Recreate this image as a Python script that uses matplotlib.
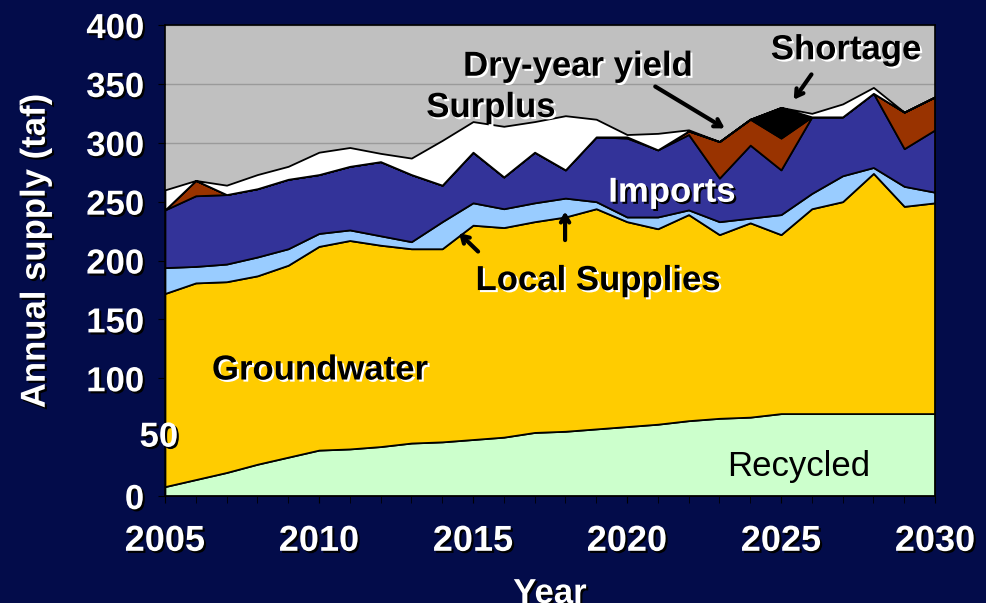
import matplotlib
matplotlib.use("Agg")
import matplotlib.pyplot as plt
import matplotlib.patheffects as pe
import matplotlib.transforms as mtransforms

plt.rcParams['font.family'] = ['Liberation Sans', 'DejaVu Sans']

# Annual supply by source (taf), 2005-2030
years = list(range(2005, 2031))
recycled = [8, 14, 20, 27, 33, 39, 40, 42, 45, 46, 48, 50, 54, 55, 57, 59, 61, 64, 66, 67, 70, 70, 70, 70, 70, 70]
groundwater = [164, 167, 162, 160, 163, 173, 177, 171, 165, 164, 182, 178, 179, 182, 187, 174, 166, 175, 156, 165, 152, 174, 180, 204, 176, 179]
local_supplies = [22, 14, 15, 16, 14, 11, 9, 8, 6, 23, 19, 16, 16, 16, 6, 4, 10, 4, 11, 4, 17, 13, 22, 5, 17, 9]
imports = [49, 60, 59, 58, 59, 50, 54, 63, 57, 31, 43, 27, 43, 24, 55, 67, 57, 64, 37, 62, 38, 65, 50, 63, 32, 53]
dry_year = [0, 13, 0, 0, 0, 0, 0, 0, 0, 0, 0, 0, 0, 0, 0, 1, 0, 3, 31, 22, 27, 0, 0, 0, 31, 28]
shortage = [0, 0, 0, 0, 0, 0, 0, 0, 0, 0, 0, 0, 0, 0, 0, 0, 0, 0, 0, 0, 26, 0, 0, 0, 0, 0]
surplus = [17, 0, 8, 12, 11, 19, 16, 7, 14, 38, 26, 43, 26, 46, 15, 2, 14, 1, 0, 0, 0, 3, 11, 5, 0, 0]
yticks = list(range(0, 401, 50))

colors = ['#CCFFCC', '#FFCC00', '#99CCFF', '#333399', '#993300', '#000000', '#FFFFFF']
bg = '#030C4A'
fs = 25

fig = plt.figure(figsize=(9.86, 6.03), dpi=100, facecolor=bg)
ax = fig.add_axes([0.1673, 0.1774, 0.781, 0.7811])
ax.set_facecolor('#C0C0C0')

ax.stackplot(years, recycled, groundwater, local_supplies, imports, dry_year, shortage, surplus,
             colors=colors, edgecolor='black', linewidth=1.3)

ax.set_xlim(2005, 2030)
ax.set_ylim(0, 400)
ax.set_xticks(range(2005, 2031, 5))
ax.set_xticks(years, minor=True)
# the "50" label sits shifted into the plot on the original slide, drawn separately below
ax.set_yticks(yticks, ['' if v == 50 else str(v) for v in yticks])
ax.yaxis.grid(True, color='#9A9A9A', linewidth=1)
ax.set_axisbelow(True)
for s in ax.spines.values():
    s.set_color('black')
    s.set_linewidth(1.2)

white_shadow = [pe.SimplePatchShadow(offset=(1.5, -1.5), shadow_rgbFace='white', alpha=1), pe.Normal()]
dark_shadow = [pe.SimplePatchShadow(offset=(1.5, -1.5), shadow_rgbFace='black', alpha=1), pe.Normal()]

ax.tick_params(axis='x', which='both', direction='out', length=5, color='black', pad=15,
               labelsize=fs + 1, labelcolor='white')
ax.tick_params(axis='y', direction='out', length=5, color='black', pad=10,
               labelsize=fs, labelcolor='white')
for lbl in ax.get_xticklabels() + ax.get_yticklabels():
    lbl.set_fontweight('bold')
    lbl.set_path_effects(dark_shadow)

trans = mtransforms.blended_transform_factory(ax.transAxes, ax.transData)
ax.text(0.017, 50, '50', transform=trans, ha='right', va='center', fontsize=fs,
        fontweight='bold', color='white', path_effects=dark_shadow, clip_on=False, zorder=5)

ax.set_xlabel('Year', fontsize=fs, fontweight='bold', color='white', path_effects=dark_shadow)
ax.xaxis.set_label_coords(0.5, -0.172)
ax.set_ylabel('Annual supply (taf)', fontsize=fs, fontweight='bold', color='white', path_effects=dark_shadow)
ax.yaxis.set_label_coords(-0.147, 0.52)

# series labels
lab = dict(fontsize=fs, fontweight='bold', ha='center', va='center')
ax.text(2018.41, 365, 'Dry-year yield', color='black', path_effects=white_shadow, **lab)
ax.text(2027.11, 379, 'Shortage', color='black', path_effects=white_shadow, **lab)
ax.text(2015.58, 330, 'Surplus', color='black', path_effects=white_shadow, **lab)
ax.text(2021.46, 258, 'Imports', color='white', path_effects=dark_shadow, **lab)
ax.text(2019.06, 183, 'Local Supplies', color='black', path_effects=white_shadow, **lab)
ax.text(2010.03, 107, 'Groundwater', color='black', path_effects=white_shadow, **lab)
ax.text(2025.58, 25.5, 'Recycled', color='black', fontsize=fs, ha='center', va='center')

arrow = dict(arrowstyle='->,head_length=0.5,head_width=0.3', color='black', lw=3)
ax.annotate('', xy=(2023.25, 311), xytext=(2020.84, 349), arrowprops=arrow)
ax.annotate('', xy=(2025.36, 334.6), xytext=(2026.04, 360), arrowprops=arrow)
ax.annotate('', xy=(2014.48, 225), xytext=(2015.23, 206), arrowprops=arrow)
ax.annotate('', xy=(2017.99, 244), xytext=(2017.99, 215), arrowprops=arrow)

fig.savefig('out.png', dpi=100, facecolor=bg)
